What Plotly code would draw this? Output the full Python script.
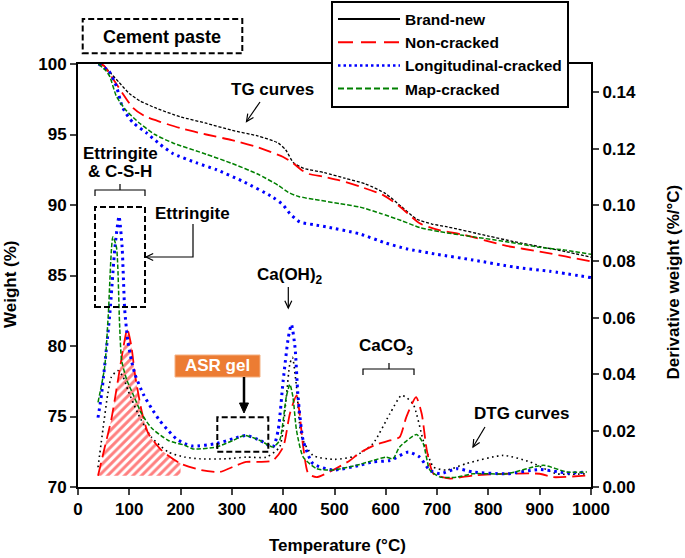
import plotly.graph_objects as go

FONT = "Arial, 'Liberation Sans', Helvetica, sans-serif"

# ---------------- data ----------------
# TG curves (weight %, left axis)
tg_brand_T = [40, 50, 60, 80, 100, 120, 150, 200, 250, 300, 350, 390, 405, 420, 440, 480, 520, 560, 600, 630, 660, 690, 720, 800, 850, 900, 950, 1000]
tg_brand_W = [100, 99.9, 99.5, 98.7, 97.9, 97.4, 96.9, 96.25, 95.8, 95.3, 94.9, 94.4, 93.9, 93.0, 92.6, 92.3, 91.9, 91.5, 90.8, 89.9, 89.0, 88.65, 88.45, 87.8, 87.4, 87.05, 86.7, 86.3]

tg_non_T = [40, 50, 60, 80, 107, 130, 160, 200, 250, 300, 350, 400, 420, 435, 450, 480, 510, 550, 595, 627, 666, 706, 750, 835, 900, 950, 1000]
tg_non_W = [100, 99.9, 99.4, 98.3, 96.9, 96.3, 95.9, 95.45, 95.0, 94.6, 94.1, 93.4, 92.95, 92.5, 92.2, 92.0, 91.75, 91.3, 90.7, 89.9, 88.7, 88.2, 87.9, 87.1, 86.7, 86.35, 86.0]

tg_long_T = [40, 60, 75, 87, 107, 134, 160, 185, 230, 270, 320, 380, 400, 413, 432, 460, 484, 549, 600, 640, 700, 770, 850, 920, 1000]
tg_long_W = [100, 99.5, 98.4, 96.9, 95.85, 95.1, 94.3, 93.65, 93.0, 92.5, 91.7, 90.55, 90.0, 89.4, 88.8, 88.6, 88.45, 87.95, 87.3, 86.9, 86.5, 86.1, 85.6, 85.3, 84.85]

tg_map_T = [40, 55, 62, 75, 94, 120, 150, 185, 250, 300, 350, 390, 410, 430, 460, 510, 550, 590, 630, 666, 706, 750, 835, 900, 950, 1000]
tg_map_W = [100, 99.5, 99.1, 97.7, 96.7, 95.8, 95.0, 94.4, 93.6, 92.95, 92.2, 91.4, 90.9, 90.6, 90.4, 90.1, 89.85, 89.4, 88.9, 88.4, 88.1, 87.85, 87.4, 87.0, 86.8, 86.5]

# DTG curves (%/°C, right axis)
dtg_brand_T = [39, 49, 58, 65, 78, 88, 98, 117, 143, 176, 208, 237, 289, 328, 367, 393, 406, 413, 418, 426, 436, 458, 500, 540, 575, 608, 631, 653, 673, 693, 718, 757, 829, 881, 933, 992]
dtg_brand_D = [0.007, 0.021, 0.033, 0.039, 0.0413, 0.039, 0.034, 0.026, 0.0177, 0.0124, 0.0106, 0.010, 0.010, 0.0106, 0.0106, 0.0142, 0.032, 0.0437, 0.046, 0.0354, 0.0177, 0.0112, 0.0098, 0.011, 0.0154, 0.026, 0.0325, 0.0295, 0.0165, 0.0071, 0.006, 0.0083, 0.0112, 0.0089, 0.0047, 0.0047]

dtg_non_T = [39, 52, 65, 78, 88, 96, 104, 111, 124, 137, 163, 200, 240, 276, 309, 328, 354, 380, 400, 413, 426, 432, 439, 449, 465, 497, 530, 549, 580, 608, 627, 640, 659, 670, 680, 693, 725, 770, 836, 900, 926, 992]
dtg_non_D = [0.004, 0.014, 0.024, 0.038, 0.049, 0.056, 0.050, 0.040, 0.027, 0.019, 0.013, 0.0083, 0.006, 0.0053, 0.0077, 0.0089, 0.0089, 0.0094, 0.0142, 0.026, 0.0325, 0.026, 0.0142, 0.0047, 0.0035, 0.006, 0.0094, 0.0121, 0.015, 0.0165, 0.0177, 0.0248, 0.0319, 0.026, 0.013, 0.0047, 0.003, 0.0041, 0.0047, 0.0047, 0.0035, 0.0041]

dtg_long_T = [39, 46, 62, 72, 80, 86, 91, 97, 104, 111, 127, 143, 159, 176, 192, 208, 224, 270, 302, 328, 355, 380, 390, 400, 410, 416, 423, 429, 439, 458, 497, 549, 575, 608, 644, 666, 686, 706, 738, 770, 836, 900, 953, 992]
dtg_long_D = [0.0246, 0.033, 0.0614, 0.085, 0.096, 0.085, 0.063, 0.052, 0.045, 0.040, 0.033, 0.028, 0.0236, 0.020, 0.017, 0.0154, 0.0145, 0.0154, 0.0171, 0.0183, 0.0165, 0.0142, 0.020, 0.0378, 0.053, 0.0576, 0.0496, 0.0319, 0.0165, 0.0083, 0.006, 0.0077, 0.0089, 0.0094, 0.0124, 0.0106, 0.0059, 0.0047, 0.0065, 0.0053, 0.0047, 0.0062, 0.005, 0.0053]

dtg_map_T = [39, 52, 59, 68, 75, 81, 85, 95, 107, 124, 143, 176, 208, 224, 270, 302, 325, 355, 380, 393, 406, 413, 419, 426, 439, 465, 497, 549, 575, 601, 614, 627, 660, 673, 686, 706, 738, 770, 836, 907, 953, 992]
dtg_map_D = [0.030, 0.0425, 0.061, 0.0887, 0.085, 0.058, 0.045, 0.038, 0.033, 0.026, 0.021, 0.0165, 0.0148, 0.0135, 0.0142, 0.0165, 0.0183, 0.0165, 0.0142, 0.0165, 0.0319, 0.0364, 0.0319, 0.020, 0.0106, 0.0065, 0.006, 0.008, 0.0094, 0.0106, 0.010, 0.0142, 0.0186, 0.0154, 0.006, 0.0035, 0.0035, 0.0047, 0.0047, 0.0077, 0.0053, 0.0053]

# hatched ettringite/C-S-H region under the Non-cracked DTG curve
hatch_T_end = 205
hatch_base = 0.004

series_names = ["Brand-new", "Non-cracked", "Longitudinal-cracked", "Map-cracked"]
x_ticks = list(range(0, 1001, 100))
y_ticks = [70, 75, 80, 85, 90, 95, 100]
y2_ticks = [0.00, 0.02, 0.04, 0.06, 0.08, 0.10, 0.12, 0.14]

# ---------------- layout geometry ----------------
W, H = 685, 558
PL, PR, PT, PB = 78, 591, 64, 487


def pp(x, y):
    return (x - PL) / (PR - PL), (PB - y) / (PB - PT)


def path(points):
    s = ""
    for i, (x, y) in enumerate(points):
        a, b = pp(x, y)
        s += ("M" if i == 0 else "L") + f"{a:.5f},{b:.5f} "
    return s


def open_head(tail, tip, length=8, spread=0.45):
    import math
    ang = math.atan2(tail[1] - tip[1], tail[0] - tip[0])
    p1 = (tip[0] + length * math.cos(ang + spread), tip[1] + length * math.sin(ang + spread))
    p2 = (tip[0] + length * math.cos(ang - spread), tip[1] + length * math.sin(ang - spread))
    return path([p1, tip, p2])


styles = {
    "Brand-new": dict(color="black", tg=dict(width=1.3, dash="3px,1.8px"), dtg=dict(width=1.6, dash="1.6px,3.4px"), leg=dict(width=2, dash="solid")),
    "Non-cracked": dict(color="#FF0000", tg=dict(width=1.8, dash="13px,6px"), dtg=dict(width=1.8, dash="13px,6px"), leg=dict(width=2, dash="15px,8px")),
    "Longitudinal-cracked": dict(color="#0000FF", tg=dict(width=3, dash="2.6px,4px"), dtg=dict(width=3, dash="2.6px,4px"), leg=dict(width=2.5, dash="2.5px,3px")),
    "Map-cracked": dict(color="#008000", tg=dict(width=1.5, dash="4.5px,2px"), dtg=dict(width=1.5, dash="4.5px,2px"), leg=dict(width=2, dash="6px,3px")),
}

fig = go.Figure()

# hatched area
hT = [t for t in dtg_non_T if t <= hatch_T_end]
hD = [d for t, d in zip(dtg_non_T, dtg_non_D) if t <= hatch_T_end]
fig.add_trace(go.Scatter(x=[hT[0], hT[-1]], y=[hatch_base, hatch_base], yaxis="y2", mode="lines",
                         line=dict(width=0, color="rgba(0,0,0,0)"), showlegend=False, hoverinfo="skip"))
fig.add_trace(go.Scatter(x=hT, y=hD, yaxis="y2", mode="lines", fill="tonexty",
                         line=dict(width=0, color="rgba(0,0,0,0)", shape="spline", smoothing=0.6),
                         fillcolor="rgba(0,0,0,0)",
                         fillpattern=dict(shape="/", fgcolor="#FF0000", bgcolor="rgba(0,0,0,0)", size=6, solidity=0.5),
                         showlegend=False, hoverinfo="skip"))

tg_data = {
    "Brand-new": (tg_brand_T, tg_brand_W),
    "Non-cracked": (tg_non_T, tg_non_W),
    "Longitudinal-cracked": (tg_long_T, tg_long_W),
    "Map-cracked": (tg_map_T, tg_map_W),
}
dtg_data = {
    "Brand-new": (dtg_brand_T, dtg_brand_D),
    "Non-cracked": (dtg_non_T, dtg_non_D),
    "Longitudinal-cracked": (dtg_long_T, dtg_long_D),
    "Map-cracked": (dtg_map_T, dtg_map_D),
}

for name in ["Brand-new", "Non-cracked", "Longitudinal-cracked", "Map-cracked"]:
    st = styles[name]
    tx, ty = tg_data[name]
    fig.add_trace(go.Scatter(x=tx, y=ty, mode="lines", name=name, showlegend=False,
                             line=dict(color=st["color"], shape="spline", smoothing=0.6, **st["tg"])))
    dx, dy = dtg_data[name]
    fig.add_trace(go.Scatter(x=dx, y=dy, yaxis="y2", mode="lines", name=name, showlegend=False,
                             line=dict(color=st["color"], shape="spline", smoothing=0.6, **st["dtg"])))

# legend entries
for name in series_names:
    st = styles[name]
    fig.add_trace(go.Scatter(x=[None], y=[None], mode="lines", name=name, showlegend=True,
                             line=dict(color=st["color"], **st["leg"])))

tick_font = dict(family=FONT, size=17, color="black", weight="bold")

shapes = []
dash_box = dict(type="rect", xref="paper", yref="paper", line=dict(color="black", width=2, dash="6px,3px"))
for (x0, y0, x1, y1) in [(82.7, 19, 242.3, 53.3), (95, 207, 145, 307), (217.3, 417.3, 268.3, 451.7)]:
    a0, b0 = pp(x0, y1)
    a1, b1 = pp(x1, y0)
    shapes.append(dict(dash_box, x0=a0, y0=b0, x1=a1, y1=b1))

# ASR gel label box
a0, b0 = pp(175, 377)
a1, b1 = pp(260, 355)
shapes.append(dict(type="rect", xref="paper", yref="paper", x0=a0, y0=b0, x1=a1, y1=b1,
                   fillcolor="#EC7C33", line=dict(color="#F4B183", width=1)))

thin = dict(color="black", width=1.2)
# brackets
shapes.append(dict(type="path", xref="paper", yref="paper", line=thin,
                   path=path([(95, 196), (95, 190), (145, 190), (145, 196)]) + path([(120, 190), (120, 184)])))
shapes.append(dict(type="path", xref="paper", yref="paper", line=thin,
                   path=path([(363, 375), (363, 369), (414, 369), (414, 375)]) + path([(389, 369), (389, 363)])))
# arrows
arrows = [
    ([(260, 102), (246.5, 121.5)]),
    ([(193, 224), (193, 257), (146, 257)]),
    ([(288.3, 287), (288.3, 308)]),
    ([(485, 427), (473, 447)]),
]
for pts in arrows:
    shapes.append(dict(type="path", xref="paper", yref="paper", line=thin, path=path(pts)))
    shapes.append(dict(type="path", xref="paper", yref="paper", line=thin, path=open_head(pts[-2], pts[-1])))
# thick ASR arrow
shapes.append(dict(type="path", xref="paper", yref="paper", line=dict(color="black", width=2.5),
                   path=path([(244, 377), (244, 405)])))
shapes.append(dict(type="path", xref="paper", yref="paper", line=dict(color="black", width=1), fillcolor="black",
                   path=path([(239.5, 403), (248.5, 403), (244, 413)]) + "Z"))

annos = []


def txt(text, x, y, size=17, color="black", angle=0):
    a, b = pp(x, y)
    annos.append(dict(text=text, x=a, y=b, xref="paper", yref="paper", showarrow=False,
                      xanchor="center", yanchor="middle", textangle=angle,
                      font=dict(family=FONT, size=size, color=color, weight="bold")))


txt("Cement paste", 162, 37, size=18)
txt("TG curves", 272, 90)
txt("Ettringite", 120, 153.5)
txt("& C-S-H", 120, 171.5)
txt("Ettringite", 192.5, 214)
txt("Ca(OH)<sub>2</sub>", 289.5, 276)
txt("ASR gel", 217.5, 366, color="white")
txt("CaCO<sub>3</sub>", 386, 347)
txt("DTG curves", 521, 413)
txt("Weight (%)", 10, 284, angle=-90)
txt("Derivative weight (%/°C)", 673, 282.5, angle=-90)
txt("Temperature (°C)", 337.5, 545)

lx, ly = pp(331, 0.5)
fig.update_layout(
    width=W, height=H,
    margin=dict(l=PL, r=W - PR, t=PT, b=H - PB, autoexpand=False),
    paper_bgcolor="white", plot_bgcolor="white",
    font=dict(family=FONT, color="black"),
    xaxis=dict(range=[0, 1000], tickvals=x_ticks, ticks="outside", ticklen=6, tickwidth=1.5,
               showline=True, linecolor="black", linewidth=2, mirror=True, showgrid=False, zeroline=False,
               tickfont=tick_font, automargin=False),
    yaxis=dict(range=[70, 100], tickvals=y_ticks, ticks="outside", ticklen=6, tickwidth=1.5,
               showline=True, linecolor="black", linewidth=2, showgrid=False, zeroline=False,
               tickfont=tick_font, automargin=False),
    yaxis2=dict(range=[0, 0.15], tickvals=y2_ticks, tickformat=".2f", overlaying="y", side="right",
                ticks="outside", ticklen=6, tickwidth=1.5, showline=True, linecolor="black", linewidth=2,
                showgrid=False, zeroline=False, tickfont=tick_font, automargin=False),
    legend=dict(x=lx, y=ly, xanchor="left", yanchor="top", bgcolor="white", bordercolor="black",
                borderwidth=2, font=dict(family=FONT, size=15.5, color="black", weight="bold"),
                itemwidth=62, tracegroupgap=0, traceorder="normal"),
    shapes=shapes,
    annotations=annos,
)

fig.write_html("out.html", config={"displayModeBar": False},
               post_script="document.body.style.margin='0px';document.body.style.overflow='hidden';")
